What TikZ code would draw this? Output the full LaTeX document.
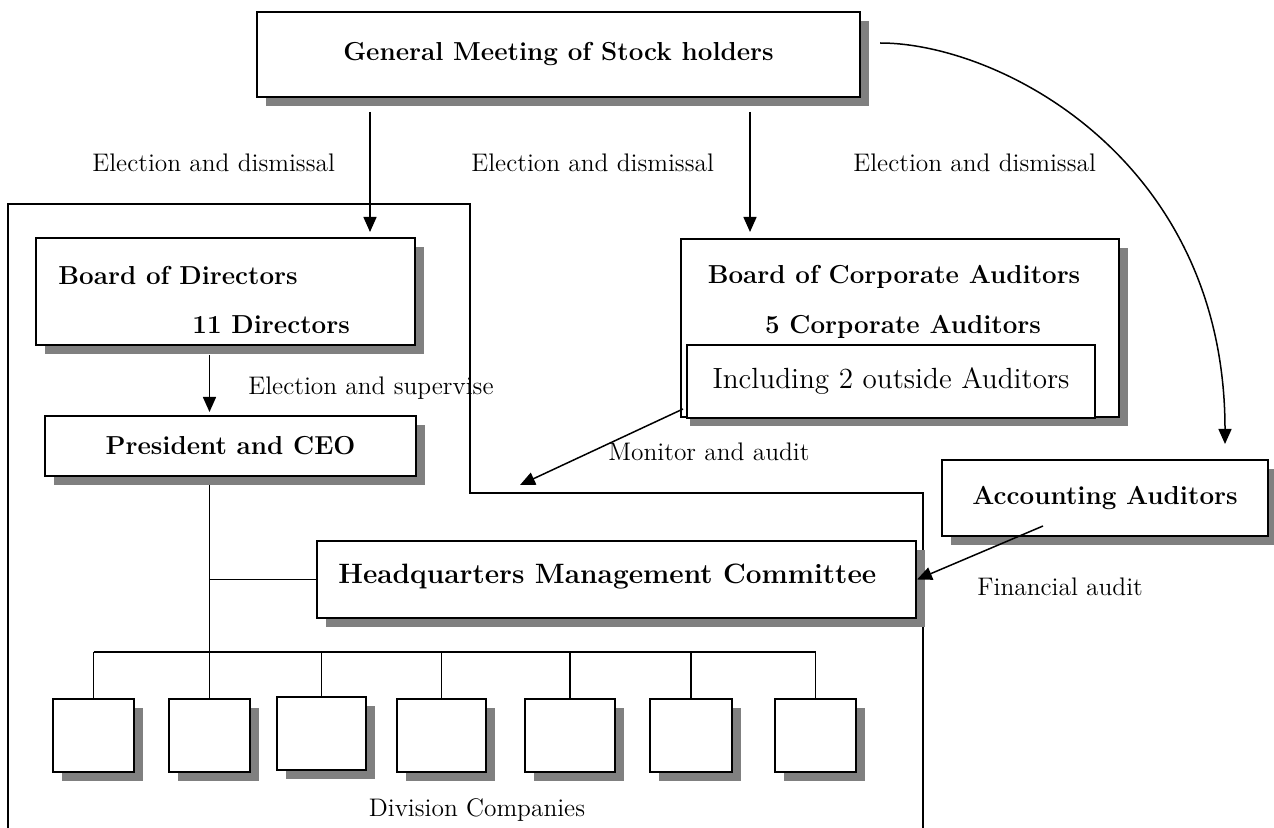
\documentclass[tikz,border=0pt]{standalone}
\usetikzlibrary{arrows.meta,shadows,calc,backgrounds}
\definecolor{shadowgray}{RGB}{128,128,128}
\tikzset{
  box/.style={draw, line width=1pt, fill=white, inner sep=0pt,
    drop shadow={shadow xshift=4.5pt, shadow yshift=-4.5pt, fill=shadowgray, opacity=1}},
  plainbox/.style={draw, line width=1pt, fill=white, inner sep=0pt},
  headtext/.style={font=\fontsize{13pt}{15pt}\selectfont\bfseries, inner sep=0pt},
  labeltext/.style={font=\fontsize{12.7pt}{15pt}\selectfont, inner sep=0pt},
  arr/.style={-{Triangle[length=7.5pt,width=6.5pt]}, line width=0.75pt},
  tree/.style={line width=0.6pt},
}

\begin{document}
\begin{tikzpicture}[x=0.5pt, y=-0.5pt]
\useasboundingbox (0,0) rectangle (1274,828);

		% top
		\node[box, headtext, minimum width=301.5pt, minimum height=42.5pt] (gms) at (558.5,54.5) {General Meeting of Stock holders};

		% directors side
		\node[box, minimum width=189.5pt, minimum height=53.5pt] (bod) at (225.5,291.5) {};
		\node[headtext, anchor=west] (bodname) at (58,275) {Board of Directors};
		\node[headtext, anchor=west] (bodcount) at (192,325) {11 Directors};
		\node[box, headtext, minimum width=185.5pt, minimum height=30pt] (pres) at (230.5,446) {President and CEO};

		% auditors side
		\node[box, minimum width=219pt, minimum height=89pt] (bca) at (900,328) {};
		\node[headtext] (bcaname) at (894,277) {Board of Corporate Auditors};
		\node[headtext] (bcacount) at (903,327) {5 Corporate Auditors};
		\node[plainbox, font=\fontsize{14.6pt}{17pt}\selectfont, minimum width=204pt, minimum height=36.5pt] (incl) at (891,381.5) {Including 2 outside Auditors};
		\node[box, headtext, minimum width=163pt, minimum height=38pt] (acc) at (1105,498) {Accounting Auditors};

		% management
		\node[box, minimum width=299.5pt, minimum height=38.5pt] (hq) at (616.5,579.5) {};
		\node[headtext, font=\fontsize{14pt}{16pt}\selectfont\bfseries, anchor=west] (hqname) at (338,577) {Headquarters Management Committee};

		% division companies
		\node[box, minimum width=40.5pt, minimum height=36.5pt] (div1) at (93.5,735.5) {};
		\node[box, minimum width=40.5pt, minimum height=36.5pt] (div2) at (209.5,735.5) {};
		\node[box, minimum width=44.5pt, minimum height=36.5pt] (div3) at (321.5,733.5) {};
		\node[box, minimum width=44.5pt, minimum height=36.5pt] (div4) at (441.5,735.5) {};
		\node[box, minimum width=45pt, minimum height=36.5pt] (div5) at (570,735.5) {};
		\node[box, minimum width=41pt, minimum height=36.5pt] (div6) at (691,735.5) {};
		\node[box, minimum width=40.5pt, minimum height=36.5pt] (div7) at (815.5,735.5) {};
		\node[labeltext] (divname) at (477,810) {Division Companies};

		% labels
		\node[labeltext, anchor=west] (elect1) at (92,163) {Election and dismissal};
		\node[labeltext, anchor=west] (elect2) at (471,163) {Election and dismissal};
		\node[labeltext, anchor=west] (elect3) at (853,163) {Election and dismissal};
		\node[labeltext, anchor=west] (supervise) at (248,388) {Election and supervise};
		\node[labeltext, anchor=west] (monitor) at (608,452) {Monitor and audit};
		\node[labeltext, anchor=west] (finaudit) at (977,587) {Financial audit};

		\begin{scope}[on background layer]
			% frame round the executive side
			\draw[line width=0.9pt] (8,828) -- (8,204) -- (470,204) -- (470,493) -- (923,493) -- (923,828);
			\coordinate (bus) at (0,652);
			\draw[tree] (div2.north |- pres.south) -- (div2.north);
			\draw[tree] (div2.north |- hq.west) -- (hq.west);
			\draw[tree] (div1.north |- bus) -- (div7.north |- bus);
			\draw[tree] (div1.north |- bus) -- (div1.north);
			\draw[tree] (div3.north |- bus) -- (div3.north);
			\draw[tree] (div4.north |- bus) -- (div4.north);
			\draw[tree] (div5.north |- bus) -- (div5.north);
			\draw[tree] (div6.north |- bus) -- (div6.north);
			\draw[tree] (div7.north |- bus) -- (div7.north);
		\end{scope}

		% arrows
		\coordinate (gmsL) at (370,112);
		\coordinate (gmsM) at (750,112);
		\coordinate (gmsR) at (880,43);
		\coordinate (frametip) at (520,485);
		\draw[arr, shorten >=2.5pt] (gmsL) -- (gmsL |- bod.north);
		\draw[arr, shorten >=3pt] (gmsM) -- (gmsM |- bca.north);
		\draw[arr] (gmsR) .. controls (1000,43) and (1225,160) .. ($(acc.north)+(120,-15)$);
		\draw[arr, shorten >=1.5pt] ($(bod.south -| div2.north)+(0,9)$) -- (div2.north |- pres.north);
		\draw[arr] ($(incl.south west)+(-3,-10)$) -- (frametip);
		\draw[arr] ($(acc.south)+(-62,-11)$) -- (hq.east);
\end{tikzpicture}
\end{document}
